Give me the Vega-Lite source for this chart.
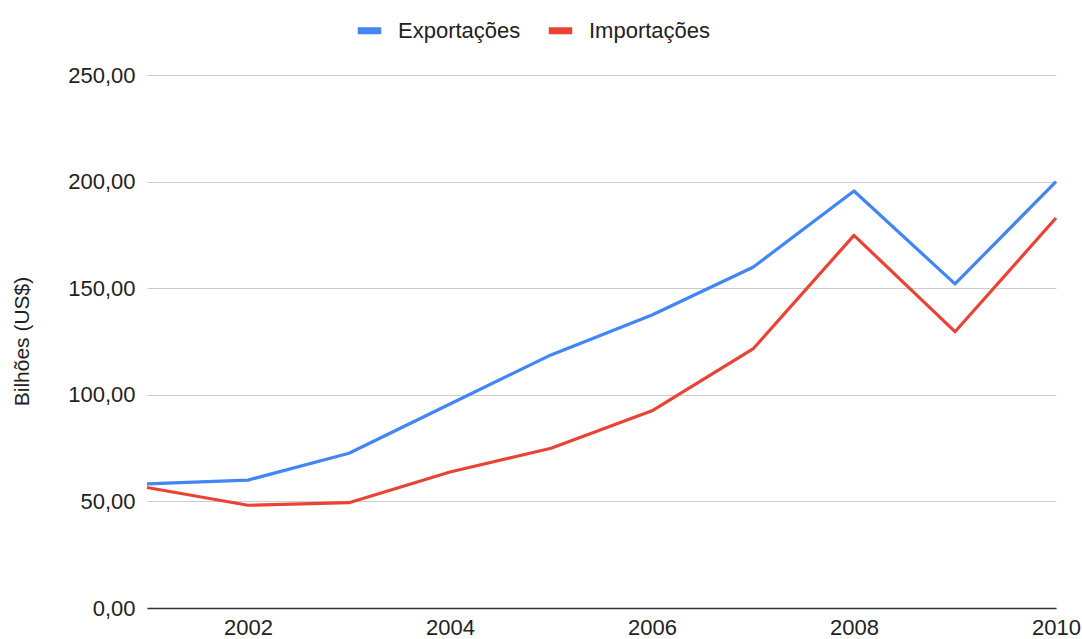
{
  "$schema": "https://vega.github.io/schema/vega-lite/v6.json",
  "width": 909,
  "height": 533,
  "autosize": {"type": "none"},
  "padding": {"left": 147, "top": 75, "right": 26, "bottom": 31},
  "background": "white",
  "config": {
    "font": "Liberation Sans",
    "view": {"stroke": null}
  },
  "data": {
    "values": [
      {"ano": 2001, "serie": "Exportações", "valor": 58.2},
      {"ano": 2002, "serie": "Exportações", "valor": 60.0},
      {"ano": 2003, "serie": "Exportações", "valor": 72.6},
      {"ano": 2004, "serie": "Exportações", "valor": 95.7},
      {"ano": 2005, "serie": "Exportações", "valor": 118.7},
      {"ano": 2006, "serie": "Exportações", "valor": 137.4},
      {"ano": 2007, "serie": "Exportações", "valor": 159.8},
      {"ano": 2008, "serie": "Exportações", "valor": 195.6},
      {"ano": 2009, "serie": "Exportações", "valor": 152.0},
      {"ano": 2010, "serie": "Exportações", "valor": 200.0},
      {"ano": 2001, "serie": "Importações", "valor": 56.5},
      {"ano": 2002, "serie": "Importações", "valor": 48.2},
      {"ano": 2003, "serie": "Importações", "valor": 49.4},
      {"ano": 2004, "serie": "Importações", "valor": 63.8},
      {"ano": 2005, "serie": "Importações", "valor": 74.9},
      {"ano": 2006, "serie": "Importações", "valor": 92.5},
      {"ano": 2007, "serie": "Importações", "valor": 121.5},
      {"ano": 2008, "serie": "Importações", "valor": 174.8},
      {"ano": 2009, "serie": "Importações", "valor": 129.6},
      {"ano": 2010, "serie": "Importações", "valor": 182.9}
    ]
  },
  "mark": {"type": "line", "strokeWidth": 3.2, "strokeJoin": "round"},
  "encoding": {
    "x": {
      "field": "ano",
      "type": "quantitative",
      "scale": {"domain": [2001, 2010], "nice": false, "zero": false},
      "axis": {
        "title": null,
        "values": [2002, 2004, 2006, 2008, 2010],
        "format": "d",
        "grid": false,
        "ticks": false,
        "domain": true,
        "domainColor": "#333333",
        "domainWidth": 1.5,
        "labelFontSize": 22,
        "labelColor": "#222222",
        "labelPadding": 9,
        "labelFlush": false
      }
    },
    "y": {
      "field": "valor",
      "type": "quantitative",
      "scale": {"domain": [0, 250], "nice": false},
      "axis": {
        "title": "Bilhões (US$)",
        "titleFontSize": 21,
        "titleFontWeight": "normal",
        "titleColor": "#222222",
        "titleX": -125,
        "titleY": 266,
        "titleAngle": -90,
        "titleBaseline": "middle",
        "titleAlign": "center",
        "values": [0, 50, 100, 150, 200, 250],
        "labelExpr": "replace(format(datum.value, '.2f'), '.', ',')",
        "labelFontSize": 22,
        "labelColor": "#222222",
        "labelPadding": 12,
        "ticks": false,
        "domain": false,
        "grid": true,
        "gridColor": "#cccccc",
        "gridWidth": 1
      }
    },
    "color": {
      "field": "serie",
      "type": "nominal",
      "scale": {"domain": ["Exportações", "Importações"], "range": ["#4285F4", "#EA4335"]},
      "legend": {
        "title": null,
        "orient": "none",
        "direction": "horizontal",
        "legendX": 207,
        "legendY": -60,
        "symbolType": "M-1,0H1",
        "symbolSize": 552,
        "symbolStrokeWidth": 7,
        "labelFontSize": 22,
        "labelColor": "#222222",
        "labelOffset": 13,
        "columnPadding": 13
      }
    }
  }
}
